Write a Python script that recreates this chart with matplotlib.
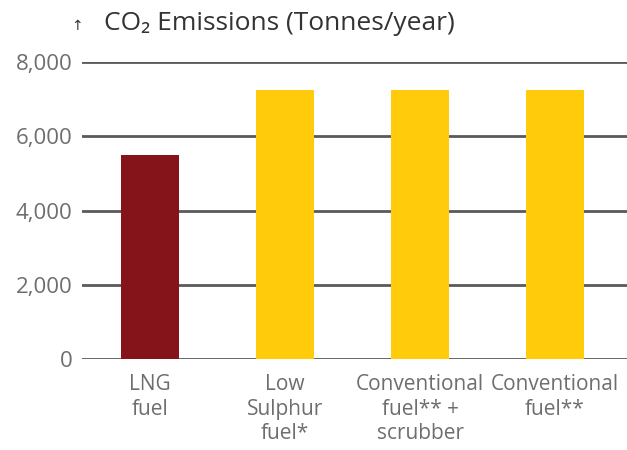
import matplotlib
matplotlib.use("Agg")
import matplotlib.pyplot as plt

categories = ["LNG\nfuel", "Low\nSulphur\nfuel*", "Conventional\nfuel** +\nscrubber", "Conventional\nfuel**"]
values = [5500, 7250, 7250, 7250]
colors = ["#84141A", "#FFCB0B", "#FFCB0B", "#FFCB0B"]
yticks = [0, 2000, 4000, 6000, 8000]
ytick_labels = ["0", "2,000", "4,000", "6,000", "8,000"]

plt.rcParams['font.family'] = ['Open Sans', 'DejaVu Sans']

fig = plt.figure(figsize=(6.27, 4.5), dpi=100)
ax = fig.add_axes([82/627, 1-359/450, 545/627, (359-62)/450])

x = list(range(len(categories)))
for yt in yticks:
    ax.axhline(yt, color="#5a5a5a", lw=2, zorder=0.5)
ax.bar(x, values, width=0.43, color=colors, zorder=3)
ax.set_xlim(-0.504, 3.533)
ax.set_ylim(0, 8000)
ax.set_yticks(yticks)
ax.set_yticklabels(ytick_labels, fontsize=16, color="#6e6e6e")
ax.set_xticks(x)
ax.set_xticklabels(categories, fontsize=15, color="#6e6e6e", linespacing=1.22)
ax.tick_params(axis="both", length=0)
ax.tick_params(axis="y", pad=7)
ax.tick_params(axis="x", pad=11)
for s in ax.spines.values():
    s.set_visible(False)

fig.text(77/627, 1-27/450, "↑", fontsize=10, color="#333333", va="center", ha="center")
fig.text(104/627, 1-23/450, "CO₂ Emissions (Tonnes/year)", fontsize=19, color="#333333", va="center", ha="left")

fig.savefig("out.png", dpi=100)
